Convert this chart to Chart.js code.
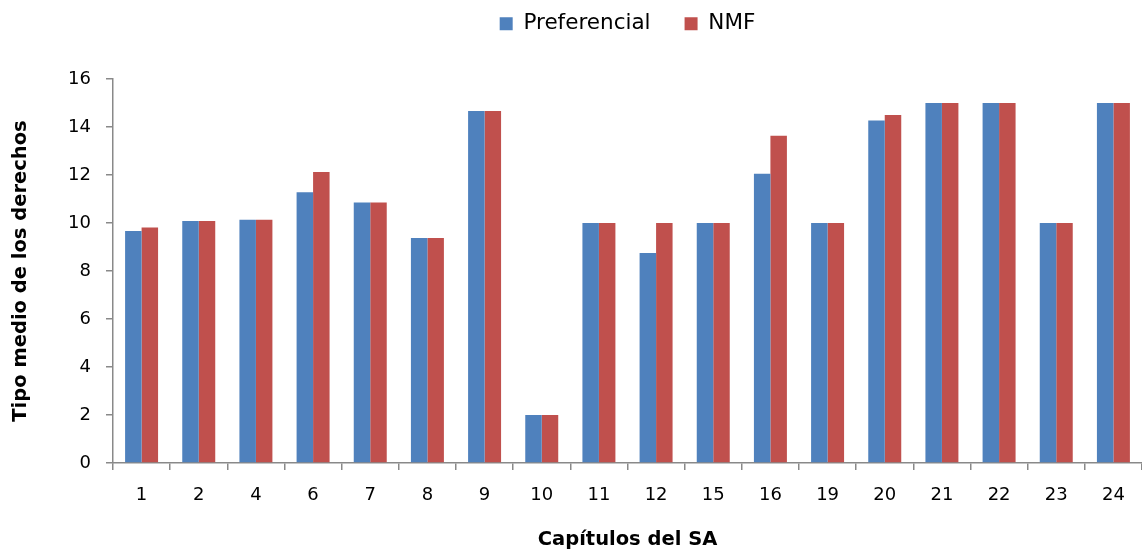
<!DOCTYPE html>
<html>
<head>
<meta charset="utf-8">
<script src="https://cdn.jsdelivr.net/npm/chart.js@4/dist/chart.umd.min.js"></script>
<style>
  html, body { margin: 0; padding: 0; background: #ffffff; }
  #wrap { width: 1142px; height: 552px; }
</style>
</head>
<body>
<div id="wrap"><canvas id="c" width="1142" height="552"></canvas></div>
<script>
// Capítulos del Sistema Armonizado
const capitulos = ['1', '2', '4', '6', '7', '8', '9', '10', '11', '12', '15', '16', '19', '20', '21', '22', '23', '24'];

// Tipo medio de los derechos por capítulo
const preferencial = [9.67, 10.08, 10.14, 11.28, 10.85, 9.37, 14.67, 2.0, 10.0, 8.75, 10.0, 12.05, 10.0, 14.27, 15.0, 15.0, 10.0, 15.0];
const nmf = [9.81, 10.08, 10.14, 12.12, 10.85, 9.37, 14.67, 2.0, 10.0, 10.0, 10.0, 13.64, 10.0, 14.5, 15.0, 15.0, 10.0, 15.0];

// Escala del eje vertical
const yMin = 0;
const yMax = 16;
const yStep = 2;

const axisGray = '#898989';
const fontFamily = '"DejaVu Sans", Verdana, sans-serif';

// Deja un espacio extra entre la leyenda y el área del gráfico
const legendGap = {
  id: 'legendGap',
  beforeLayout(chart, args, opts) {
    const legend = chart.legend;
    if (!legend || legend._gapWrapped) return;
    const fit = legend.fit;
    legend.fit = function () {
      fit.call(this);
      this.height += opts.extra || 0;
    };
    legend._gapWrapped = true;
  }
};

new Chart(document.getElementById('c'), {
  type: 'bar',
  data: {
    labels: capitulos,
    datasets: [
      { label: 'Preferencial', data: preferencial, backgroundColor: '#4F81BD', borderWidth: 0 },
      { label: 'NMF', data: nmf, backgroundColor: '#C0504D', borderWidth: 0 }
    ]
  },
  plugins: [legendGap],
  options: {
    responsive: false,
    animation: false,
    devicePixelRatio: 1,
    layout: { padding: { top: -21, right: 0, bottom: 0, left: 0 } },
    datasets: {
      bar: { categoryPercentage: 0.577, barPercentage: 1.0 }
    },
    plugins: {
      tooltip: { enabled: false },
      legendGap: { extra: 34.5 },
      legend: {
        position: 'top',
        fullSize: false,
        labels: {
          boxWidth: 13,
          boxHeight: 13,
          padding: 34,
          color: '#000000',
          font: { family: fontFamily, size: 21.5 }
        }
      }
    },
    scales: {
      x: {
        afterFit(scale) { scale.height = 89; },
        grid: {
          display: true,
          drawOnChartArea: false,
          drawTicks: true,
          tickLength: 7,
          color: axisGray,
          lineWidth: 1.5,
          offset: true
        },
        border: { display: true, color: axisGray, width: 1.5 },
        ticks: {
          color: '#000000',
          padding: 15,
          maxRotation: 0,
          autoSkip: false,
          font: { family: fontFamily, size: 18 }
        },
        title: {
          display: true,
          text: 'Capítulos del SA',
          color: '#000000',
          padding: { top: 20, bottom: 0 },
          font: { family: fontFamily, size: 19.5, weight: 'bold' }
        }
      },
      y: {
        min: yMin,
        max: yMax,
        afterFit(scale) { scale.width = 113; },
        grid: {
          display: true,
          drawOnChartArea: false,
          drawTicks: true,
          tickLength: 7,
          color: axisGray,
          lineWidth: 1.5
        },
        border: { display: true, color: axisGray, width: 1.5 },
        ticks: {
          stepSize: yStep,
          color: '#000000',
          padding: 15,
          font: { family: fontFamily, size: 18 }
        },
        title: {
          display: true,
          text: 'Tipo medio de los derechos',
          color: '#000000',
          padding: { top: 9, bottom: 0 },
          font: { family: fontFamily, size: 19.5, weight: 'bold' }
        }
      }
    }
  }
});
</script>
</body>
</html>
